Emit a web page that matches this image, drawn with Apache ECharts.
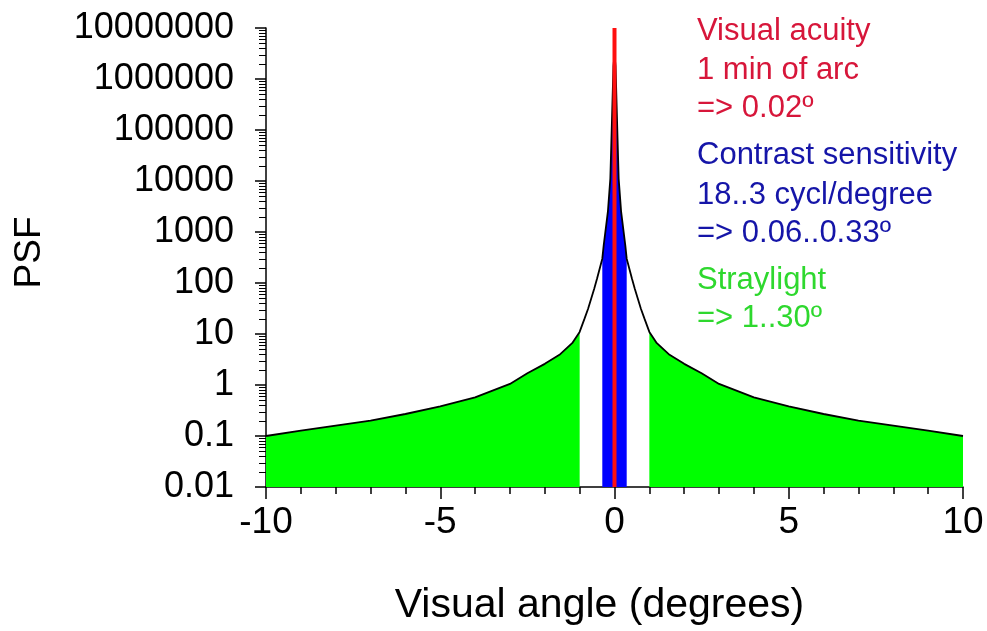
<!DOCTYPE html>
<html>
<head>
<meta charset="utf-8">
<title>PSF</title>
<script src="https://cdn.jsdelivr.net/npm/echarts@6/dist/echarts.min.js"></script>
<style>
	html, body { margin: 0; padding: 0; background: #fff; }
	#chart { width: 987px; height: 631px; }
</style>
</head>
<body>
<div id="chart"></div>
<script>
// visual angle (degrees), right half of the curve; left half is its mirror
const angleRight = [0, 0.03, 0.06, 0.09, 0.12, 0.19, 0.31, 0.35, 0.5, 0.58, 0.67, 0.76, 0.86, 1, 1.2, 1.58, 2, 2.5, 3, 4, 5, 6, 7, 8, 9, 10]
// PSF
const psfRight = [3e6, 1.8e6, 3.2e5, 5.8e4, 1.1e4, 2500, 550, 300, 122, 78, 49, 31, 20, 11, 6.8, 3.9, 2.6, 1.7, 1.05, 0.57, 0.38, 0.27, 0.2, 0.16, 0.127, 0.1]

// band limits (degrees)
const acuityAngle = 0
const contrastLimit = 0.35
const straylightLimits = [1, 10]

const yTickValues = [0.01, 0.1, 1, 10, 100, 1000, 10000, 100000, 1000000, 10000000]

const notes = [
	{ text: 'Visual acuity', color: '#d7163a' },
	{ text: '1 min of arc', color: '#d7163a' },
	{ text: '=> 0.02º', color: '#d7163a' },
	{ text: 'Contrast sensitivity', color: '#1515a8' },
	{ text: '18..3 cycl/degree', color: '#1515a8' },
	{ text: '=> 0.06..0.33º', color: '#1515a8' },
	{ text: 'Straylight', color: '#2ed82e' },
	{ text: '=> 1..30º', color: '#2ed82e' },
]
const noteMiddles = [32, 71, 109, 156, 196, 234, 281, 319]

const FONT = '"Liberation Sans", Arial, sans-serif'

// full curve, mirrored
let curve = []
for (let i = angleRight.length - 1; i > 0; i--) {
	curve.push([-angleRight[i], psfRight[i]])
}
for (let i = 0; i < angleRight.length; i++) {
	curve.push([angleRight[i], psfRight[i]])
}

const blueData = curve.filter(p => Math.abs(p[0]) <= contrastLimit)
const greenLeft = curve.filter(p => p[0] <= -straylightLimits[0])
const greenRight = curve.filter(p => p[0] >= straylightLimits[0])

// log minor ticks 2..9 in each decade
let minorTicks = []
for (let k = 0; k < yTickValues.length - 1; k++) {
	for (let m = 2; m <= 9; m++) {
		minorTicks.push([-10, m * yTickValues[k]])
	}
}

function areaSeries(data, color) {
	return {
		type: 'line',
		data: data,
		symbol: 'none',
		lineStyle: { width: 0 },
		areaStyle: { color: color, opacity: 1, origin: 'start' },
		silent: true,
		z: 2,
	}
}

const chart = echarts.init(document.getElementById('chart'))
chart.setOption({
	animation: false,
	grid: {
		left: 266,
		right: 24,
		top: 28,
		bottom: 142,
	},
	xAxis: {
		type: 'value',
		min: -10,
		max: 10,
		interval: 5,
		name: 'Visual angle (degrees)',
		nameLocation: 'middle',
		nameGap: 98,
		nameTextStyle: { fontSize: 41, color: '#000', fontFamily: FONT, padding: [0, 30, 0, 0] },
		axisLine: { onZero: false, lineStyle: { color: '#000', width: 1.5 } },
		axisTick: { length: 12, lineStyle: { color: '#000', width: 1.5 } },
		minorTick: { show: true, splitNumber: 5, length: 7, lineStyle: { color: '#000', width: 1.5 } },
		axisLabel: { fontSize: 37, color: '#000', fontFamily: FONT, margin: 17 },
		splitLine: { show: false },
	},
	yAxis: {
		type: 'log',
		logBase: 10,
		min: 0.01,
		max: 10000000,
		splitNumber: 9,
		name: 'PSF',
		nameLocation: 'middle',
		nameGap: 218,
		nameTextStyle: { fontSize: 37, color: '#000', fontFamily: FONT, padding: [0, 0, 0, 10] },
		axisLine: { show: true, onZero: false, lineStyle: { color: '#000', width: 1.5 } },
		axisTick: { show: true, length: 11, lineStyle: { color: '#000', width: 1.5 } },
		axisLabel: {
			fontSize: 36,
			color: '#000',
			fontFamily: FONT,
			margin: 32,
			formatter: v => parseFloat(Number(v).toPrecision(3)).toString(),
		},
		splitLine: { show: false },
	},
	graphic: notes.map((n, i) => ({
		type: 'text',
		left: 697,
		top: noteMiddles[i] - 16,
		style: {
			text: n.text,
			fill: n.color,
			font: '31px ' + FONT,
		},
		silent: true,
	})),
	series: [
		areaSeries(greenLeft, '#00ff00'),
		areaSeries(greenRight, '#00ff00'),
		areaSeries(blueData, '#0000ff'),
		{
			type: 'line',
			data: curve,
			symbol: 'none',
			lineStyle: { color: '#000', width: 1.8 },
			silent: true,
			z: 3,
		},
		{
			type: 'line',
			data: [[acuityAngle, 0.01], [acuityAngle, 10000000]],
			symbol: 'none',
			lineStyle: { color: '#ff1010', width: 4 },
			silent: true,
			z: 4,
		},
		{
			type: 'custom',
			data: minorTicks,
			encode: { x: 0, y: 1 },
			clip: false,
			silent: true,
			z: 5,
			renderItem: function(params, api) {
				const p = api.coord([api.value(0), api.value(1)])
				const y = Math.round(p[1]) + 0.5
				return {
					type: 'line',
					shape: { x1: p[0] - 7, y1: y, x2: p[0], y2: y },
					style: { stroke: '#000', lineWidth: 1 },
				}
			},
		},
	],
})
</script>
</body>
</html>
